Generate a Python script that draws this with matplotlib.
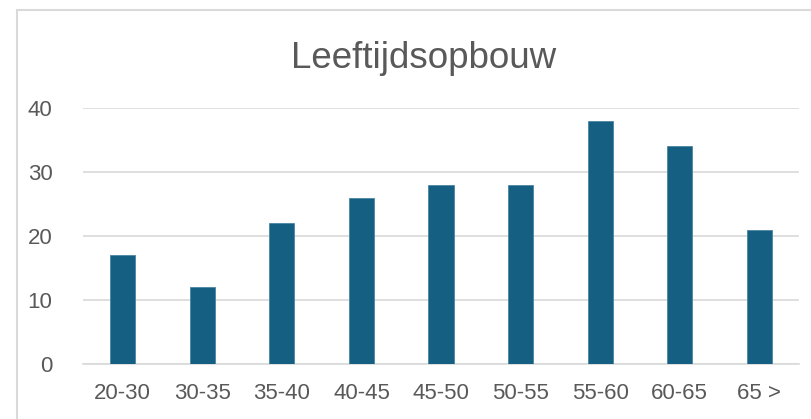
import matplotlib.pyplot as plt
from matplotlib.patches import Rectangle

categories = ['20-30', '30-35', '35-40', '40-45', '45-50', '50-55', '55-60', '60-65', '65 >']
counts = [17, 12, 22, 26, 28, 28, 38, 34, 21]
yticks = [0, 10, 20, 30, 40]

plt.rcParams['font.family'] = ['Liberation Sans', 'DejaVu Sans']

fig = plt.figure(figsize=(8.12, 4.19), dpi=100)
W, H = 812, 419
ax = fig.add_axes([83 / W, 1 - 364 / H, (799 - 83) / W, (364 - 108) / H])

# chart border (only left and top visible in the crop)
fig.patches.append(Rectangle((17 / W, -0.1), 1.2, 1 - 10 / H + 0.1, transform=fig.transFigure,
                             fill=False, edgecolor='#d9d9d9', linewidth=1.5))

x = range(len(categories))
ax.bar(x, counts, width=0.315, color='#156082', edgecolor='#4a86a3', linewidth=0.6, zorder=3)

ax.set_xlim(-0.5, len(categories) - 0.5)
ax.set_ylim(0, 40)
ax.set_yticks(yticks)
ax.set_xticks(list(x))
ax.set_xticklabels(categories)
ax.grid(axis='y', color='#d9d9d9', linewidth=1.2, zorder=0)
for s in ['top', 'right', 'left']:
    ax.spines[s].set_visible(False)
ax.spines['bottom'].set_color('#d9d9d9')
ax.spines['bottom'].set_linewidth(1.2)
ax.tick_params(axis='both', length=0, labelsize=16, labelcolor='#595959')
ax.tick_params(axis='y', pad=22)
ax.tick_params(axis='x', pad=14)

fig.text((291 + 556) / 2 / W, 1 - 58 / H, 'Leeftijdsopbouw', ha='center', va='center',
         fontsize=26.5, color='#595959')

fig.savefig('out.png', dpi=100)
